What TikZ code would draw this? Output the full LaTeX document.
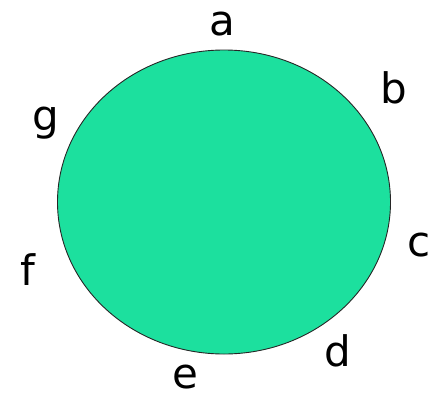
\documentclass[tikz,border=0pt]{standalone}
\usepackage{fontspec}
\setmainfont{DejaVu Sans}
\usetikzlibrary{shapes.geometric}
\definecolor{fillgreen}{RGB}{28,224,158}
\begin{document}
\begin{tikzpicture}[x=1pt,y=-1pt,
  lbl/.style={anchor=base,inner sep=0pt,font=\fontsize{42}{42}\selectfont},
  blob/.style={draw=black!85,line width=0.9pt,fill=fillgreen}]
\useasboundingbox (0,0) rectangle (441,399);
\node[blob,ellipse,minimum width=333pt,minimum height=304pt,inner sep=0pt] (circ) at (224,202) {};
\node[lbl] (a) at (222.5,35.5) {a};
\node[lbl] (b) at (394,103) {b};
\node[lbl] (c) at (419,256.5) {c};
\node[lbl] (d) at (337.5,366.5) {d};
\node[lbl] (e) at (185,388) {e};
\node[lbl] (f) at (28,285) {f};
\node[lbl] (g) at (46,130) {g};
\end{tikzpicture}
\end{document}
